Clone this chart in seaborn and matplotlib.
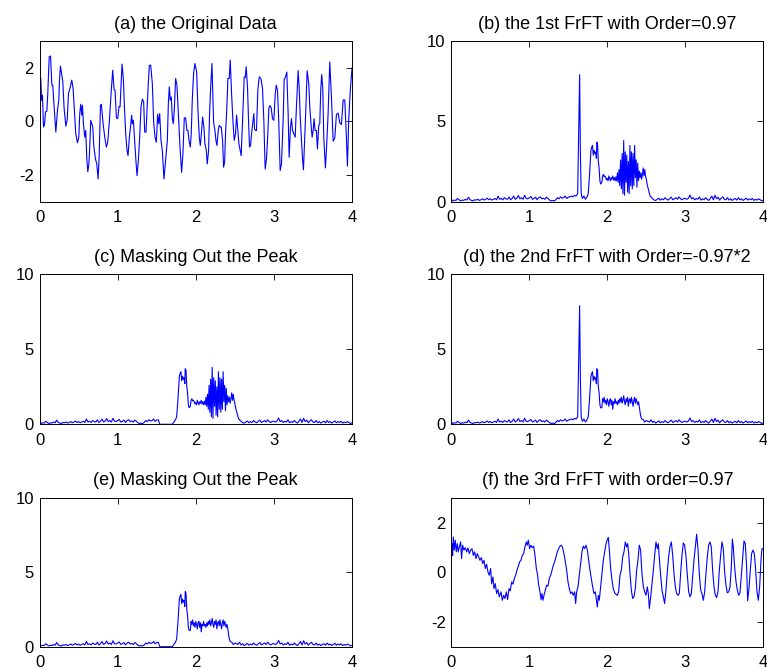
import numpy as np
import pandas as pd
import seaborn as sns
import matplotlib.pyplot as plt

# (a) original signal, turning points
t_a = [0.000, 0.017, 0.026, 0.038, 0.051, 0.064, 0.077, 0.094, 0.106, 0.124, 0.141, 0.158, 0.170, 0.187,
       0.209, 0.230, 0.247, 0.256, 0.268, 0.285, 0.298, 0.315, 0.337, 0.354, 0.371, 0.392, 0.413, 0.430,
       0.443, 0.464, 0.486, 0.503, 0.515, 0.528, 0.541, 0.550, 0.562, 0.579, 0.592, 0.605, 0.618, 0.630,
       0.639, 0.656, 0.669, 0.682, 0.694, 0.716, 0.733, 0.750, 0.763, 0.780, 0.792, 0.814, 0.835, 0.856,
       0.873, 0.895, 0.916, 0.937, 0.954, 0.967, 0.984, 1.001, 1.018, 1.031, 1.044, 1.056, 1.073, 1.086,
       1.103, 1.120, 1.133, 1.150, 1.167, 1.180, 1.188, 1.201, 1.223, 1.235, 1.248, 1.265, 1.282, 1.299,
       1.316, 1.333, 1.346, 1.363, 1.376, 1.389, 1.406, 1.423, 1.444, 1.461, 1.478, 1.495, 1.512, 1.525,
       1.538, 1.555, 1.572, 1.593, 1.614, 1.636, 1.649, 1.661, 1.674, 1.687, 1.700, 1.712, 1.725, 1.742,
       1.759, 1.776, 1.798, 1.819, 1.836, 1.853, 1.870, 1.887, 1.900, 1.913, 1.930, 1.942, 1.955, 1.972,
       1.989, 2.011, 2.028, 2.045, 2.058, 2.075, 2.087, 2.104, 2.117, 2.134, 2.147, 2.164, 2.177, 2.190,
       2.207, 2.215, 2.228, 2.245, 2.258, 2.271, 2.288, 2.300, 2.313, 2.326, 2.343, 2.356, 2.369, 2.381,
       2.398, 2.411, 2.428, 2.441, 2.458, 2.475, 2.492, 2.509, 2.522, 2.535, 2.552, 2.569, 2.581, 2.594,
       2.607, 2.620, 2.633, 2.645, 2.662, 2.675, 2.688, 2.701, 2.714, 2.726, 2.743, 2.752, 2.765, 2.777,
       2.794, 2.812, 2.833, 2.854, 2.871, 2.888, 2.905, 2.922, 2.935, 2.948, 2.965, 2.982, 2.999, 3.016,
       3.029, 3.046, 3.063, 3.080, 3.097, 3.118, 3.131, 3.148, 3.165, 3.182, 3.195, 3.212, 3.225, 3.238,
       3.255, 3.272, 3.289, 3.310, 3.323, 3.335, 3.348, 3.365, 3.378, 3.391, 3.408, 3.425, 3.446, 3.459,
       3.476, 3.489, 3.502, 3.514, 3.527, 3.544, 3.557, 3.574, 3.587, 3.600, 3.612, 3.625, 3.638, 3.659,
       3.676, 3.693, 3.715, 3.737, 3.758, 3.779, 3.800, 3.822, 3.843, 3.864, 3.886, 3.907, 3.928, 3.941,
       3.958, 3.979, 4.000]
y_a = [1.66, 1.60, 0.79, 0.98, -0.21, -0.13, 0.35, 0.38, 1.04, 2.41, 2.44, 1.35, 1.35, 0.54,
       -0.40, 0.41, 0.79, 1.54, 2.06, 1.73, 1.48, 0.48, -0.18, 0.04, 1.04, 1.26, 1.54, 1.23,
       0.60, -0.46, -0.80, -0.59, 0.29, 0.64, 0.23, 0.60, -0.09, -0.59, -0.34, -1.38, -1.88, -1.65,
       -1.25, 0.04, -0.09, -0.21, -0.90, -1.40, -1.59, -2.15, -1.34, 0.60, 0.64, -0.09, -0.59, -0.96,
       -0.78, 0.04, 1.04, 1.91, 1.19, 1.16, 0.13, 0.10, 0.56, 0.54, 1.35, 2.14, 1.60, 0.60,
       -0.46, -1.09, -1.28, -0.59, -0.15, 0.23, -0.09, 0.04, -0.96, -1.50, -2.03, -1.46, -0.59, 0.54,
       0.83, 0.73, -0.40, -0.40, 0.41, 1.23, 2.09, 2.10, 1.41, -0.03, -0.59, -0.78, 0.26, -0.09,
       0.29, -0.71, -1.09, -2.15, -1.46, -0.71, 0.66, 1.29, 0.79, 0.91, 0.10, -0.09, 0.41, 1.60,
       1.35, 0.35, -0.96, -1.90, -1.19, 0.13, 0.13, -0.34, -0.34, -0.71, -0.96, -0.46, 0.79, 1.79,
       2.16, 1.85, 0.41, -0.59, -0.90, -0.34, 0.16, -0.21, -0.84, -1.06, -1.59, -1.09, 0.35, 1.23,
       2.16, 1.29, -0.03, -0.34, -0.71, -0.90, -0.34, -0.15, -0.21, -0.21, -0.71, -1.71, -1.53, -0.46,
       0.54, 1.60, 1.60, 2.29, 1.04, 0.04, -0.71, -0.46, 0.23, -0.21, -0.84, -1.09, -1.28, -0.34,
       0.66, 1.66, 1.63, 2.04, 1.29, 0.04, -0.96, -0.90, -0.46, -0.15, 0.29, -0.28, -0.34, -0.34,
       1.16, 1.66, 1.60, 1.23, 0.04, -1.78, -1.40, -0.46, 0.48, 0.59, 0.51, 0.10, 0.04, 0.98,
       1.35, 1.16, -0.09, -1.84, -1.59, 0.04, 1.56, 1.66, 1.84, 0.29, -1.34, -0.21, 0.10, -0.34,
       -0.46, -0.59, 0.60, 1.90, 1.29, 0.29, -0.46, -1.34, -1.81, -0.84, 0.41, 1.89, 1.41, 0.54,
       -0.15, -0.59, -0.34, 0.10, -0.34, -0.34, -1.03, -0.15, -0.09, 1.23, 1.75, 1.23, -0.59, -1.74,
       -0.84, 0.25, 2.22, 0.86, -0.74, -0.62, 0.25, 0.31, -0.06, -0.12, 0.80, 0.80, -0.62, -1.67,
       0.12, 1.23, 2.00]

# shared low-level floor of the FrFT magnitudes
floor_left = [0.15, 0.05, 0.10, 0.08, 0.20, 0.12, 0.05, 0.10, 0.08, 0.15,
              0.10, 0.28, 0.12, 0.08, 0.05, 0.12, 0.10, 0.15, 0.08, 0.12,
              0.18, 0.10, 0.15, 0.22, 0.12, 0.18, 0.10, 0.15, 0.20, 0.12,
              0.35, 0.15, 0.20, 0.12, 0.25, 0.18, 0.15, 0.30, 0.12, 0.20,
              0.35, 0.15, 0.22, 0.38, 0.18, 0.25, 0.15, 0.40, 0.20, 0.18,
              0.25, 0.32, 0.15, 0.20, 0.28, 0.12, 0.25, 0.30, 0.18, 0.22,
              0.15, 0.28, 0.20, 0.10, 0.05, 0.08, 0.05, 0.12, 0.25, 0.18,
              0.30, 0.22, 0.25, 0.35, 0.20, 0.28, 0.30]
floor_right = [0.25, 0.20, 0.15, 0.30, 0.12, 0.20, 0.08, 0.15, 0.22, 0.10,
               0.18, 0.12, 0.25, 0.15, 0.10, 0.20, 0.28, 0.12, 0.18, 0.25,
               0.15, 0.30, 0.18, 0.12, 0.20, 0.20, 0.15, 0.22, 0.42, 0.18,
               0.25, 0.12, 0.20, 0.15, 0.30, 0.10, 0.18, 0.12, 0.25, 0.15,
               0.08, 0.20, 0.35, 0.12, 0.40, 0.18, 0.28, 0.10, 0.22, 0.30,
               0.15, 0.12, 0.25, 0.10, 0.18, 0.08, 0.15, 0.20, 0.10, 0.25,
               0.12, 0.18, 0.08, 0.15, 0.22, 0.10, 0.18, 0.12, 0.20, 0.08,
               0.15, 0.10, 0.18, 0.12, 0.05, 0.10]
t_floor_left = np.linspace(0, 1.52, len(floor_left))
t_floor_right = np.linspace(2.50, 4.0, len(floor_right))

# the sharp peak (b, d) and the masked gap (c, e)
t_peak = [1.54, 1.56, 1.58, 1.60, 1.62, 1.635, 1.645, 1.655, 1.665, 1.68, 1.70]
y_peak = [0.35, 0.30, 0.40, 0.35, 0.50, 5.0, 7.9, 3.0, 0.50, 0.20, 0.35]
t_mask = [1.54, 1.70]
y_mask = [0.0, 0.0]

# rising part, same in b-e
t_rise = [1.72, 1.74, 1.755, 1.77, 1.78, 1.79, 1.80, 1.81, 1.82, 1.83, 1.84, 1.85, 1.86, 1.865,
          1.875, 1.885, 1.895, 1.905, 1.915]
y_rise = [0.15, 0.30, 0.50, 1.5, 2.4, 3.2, 3.4, 3.5, 2.9, 3.2, 3.0, 3.1, 2.7, 3.7,
          3.6, 2.5, 2.1, 1.3, 1.1]

# plateau + oscillating part in b and c
t_chirp = [1.93, 1.94, 1.95, 1.96, 1.97, 1.98, 1.99, 2.00, 2.01, 2.02, 2.03, 2.04, 2.05, 2.06,
           2.07, 2.08, 2.09, 2.10, 2.11, 2.12, 2.13, 2.14, 2.15, 2.16, 2.17, 2.18, 2.19, 2.20,
           2.21, 2.22, 2.23, 2.24, 2.25, 2.26, 2.27, 2.28, 2.29, 2.30, 2.31, 2.32, 2.33, 2.34,
           2.35, 2.36, 2.37, 2.38, 2.39, 2.40, 2.41, 2.42, 2.43, 2.44, 2.45, 2.46, 2.47, 2.48,
           2.49, 2.50, 2.51, 2.52, 2.53, 2.54, 2.55, 2.56, 2.58, 2.60]
y_chirp = [1.2, 1.6, 1.7, 1.55, 1.6, 1.5, 1.35, 1.45, 1.3, 1.6, 1.45, 1.3, 1.5, 1.4,
           1.6, 1.35, 1.5, 1.3, 1.55, 1.3, 1.8, 1.2, 2.0, 1.0, 2.6, 0.8, 3.0, 0.5,
           3.8, 0.4, 3.1, 1.2, 2.9, 0.6, 2.5, 0.5, 3.5, 1.0, 3.1, 0.8, 3.0, 1.0,
           3.5, 1.5, 2.6, 0.9, 2.4, 1.3, 1.9, 1.5, 1.8, 1.4, 1.7, 2.1, 1.6, 2.0,
           1.6, 1.4, 1.1, 0.9, 0.7, 0.5, 0.35, 0.3, 0.2, 0.1]

# flattened plateau in d and e
t_flat = [1.93, 1.94, 1.95, 1.96, 1.97, 1.98, 1.99, 2.00, 2.01, 2.02, 2.03, 2.04, 2.05, 2.06,
          2.07, 2.08, 2.09, 2.10, 2.11, 2.12, 2.13, 2.14, 2.15, 2.16, 2.17, 2.18, 2.19, 2.20,
          2.21, 2.22, 2.23, 2.24, 2.25, 2.26, 2.27, 2.28, 2.29, 2.30, 2.31, 2.32, 2.33, 2.34,
          2.35, 2.36, 2.37, 2.38, 2.39, 2.40, 2.41, 2.42, 2.43, 2.44, 2.46, 2.48]
y_flat = [1.1, 1.7, 1.5, 1.8, 1.4, 1.6, 1.3, 1.7, 1.5, 1.2, 1.6, 1.7, 1.3, 1.6,
          1.0, 1.5, 1.4, 1.7, 1.4, 1.5, 1.3, 1.6, 1.4, 1.7, 1.5, 1.8, 1.4, 1.6,
          1.9, 1.5, 1.3, 1.7, 1.5, 1.8, 1.2, 1.6, 1.7, 1.4, 1.8, 1.5, 1.2, 1.6,
          1.8, 1.4, 1.7, 1.5, 1.3, 1.5, 1.2, 0.8, 0.5, 0.35, 0.3, 0.15]

# (f) result of the 3rd FrFT
t_f = [0.009, 0.017, 0.026, 0.038, 0.051, 0.064, 0.077, 0.090, 0.103, 0.120, 0.132, 0.145, 0.162, 0.179,
       0.197, 0.214, 0.231, 0.248, 0.265, 0.282, 0.299, 0.316, 0.333, 0.350, 0.368, 0.385, 0.402, 0.419,
       0.436, 0.453, 0.470, 0.487, 0.504, 0.517, 0.534, 0.547, 0.564, 0.581, 0.598, 0.615, 0.637, 0.654,
       0.671, 0.688, 0.705, 0.722, 0.739, 0.756, 0.774, 0.791, 0.808, 0.825, 0.842, 0.859, 0.876, 0.893,
       0.910, 0.927, 0.944, 0.962, 0.974, 0.987, 1.004, 1.021, 1.038, 1.056, 1.073, 1.090, 1.107, 1.120,
       1.137, 1.150, 1.162, 1.175, 1.188, 1.205, 1.222, 1.239, 1.256, 1.274, 1.291, 1.308, 1.325, 1.342,
       1.359, 1.376, 1.393, 1.410, 1.427, 1.444, 1.462, 1.479, 1.496, 1.513, 1.530, 1.547, 1.564, 1.581,
       1.594, 1.607, 1.624, 1.641, 1.658, 1.675, 1.692, 1.709, 1.726, 1.744, 1.761, 1.778, 1.795, 1.812,
       1.829, 1.846, 1.863, 1.872, 1.885, 1.897, 1.915, 1.932, 1.949, 1.966, 1.983, 2.000, 2.013, 2.026,
       2.043, 2.060, 2.077, 2.094, 2.111, 2.128, 2.145, 2.162, 2.180, 2.197, 2.214, 2.231, 2.248, 2.261,
       2.274, 2.291, 2.308, 2.325, 2.342, 2.359, 2.376, 2.393, 2.410, 2.427, 2.444, 2.462, 2.479, 2.496,
       2.513, 2.526, 2.539, 2.556, 2.573, 2.590, 2.607, 2.624, 2.641, 2.654, 2.667, 2.684, 2.701, 2.718,
       2.735, 2.752, 2.769, 2.786, 2.803, 2.821, 2.838, 2.855, 2.872, 2.889, 2.906, 2.923, 2.940, 2.957,
       2.974, 2.991, 3.009, 3.026, 3.043, 3.060, 3.077, 3.094, 3.111, 3.128, 3.145, 3.162, 3.179, 3.197,
       3.214, 3.231, 3.248, 3.265, 3.282, 3.299, 3.316, 3.333, 3.350, 3.368, 3.385, 3.402, 3.419, 3.436,
       3.453, 3.470, 3.487, 3.504, 3.521, 3.538, 3.556, 3.573, 3.590, 3.603, 3.615, 3.632, 3.650, 3.667,
       3.684, 3.701, 3.718, 3.735, 3.752, 3.769, 3.786, 3.799, 3.816, 3.833, 3.850, 3.867, 3.885, 3.902,
       3.919, 3.936, 3.953, 3.970, 3.983, 4.000]
y_f = [1.15, 0.68, 1.42, 0.89, 1.29, 0.82, 1.15, 0.82, 1.02, 1.22, 0.55, 1.09, 0.89, 0.99,
       0.82, 0.98, 0.75, 0.89, 0.95, 0.68, 0.82, 0.55, 0.75, 0.62, 0.48, 0.59, 0.35, 0.48,
       0.15, 0.32, 0.01, -0.12, 0.15, -0.46, -0.19, -0.66, -0.46, -0.86, -0.70, -0.99, -0.79, -1.13,
       -0.93, -1.06, -0.79, -1.10, -0.66, -0.75, -0.39, -0.48, -0.25, -0.12, 0.08, 0.24, 0.42, 0.48,
       0.68, 0.75, 1.02, 1.22, 1.09, 1.29, 0.95, 1.09, 0.99, 1.05, 0.68, 0.15, -0.12, -0.52,
       -0.79, -1.10, -0.86, -1.13, -0.93, -0.72, -0.52, -0.56, -0.25, -0.12, 0.08, 0.28, 0.42, 0.62,
       0.82, 0.95, 1.05, 1.09, 0.99, 0.75, 0.42, 0.08, -0.39, -0.66, -0.86, -0.79, -0.93, -0.79,
       -1.26, -0.79, -0.59, -0.12, 0.35, 0.82, 1.05, 0.95, 1.09, 0.89, 0.48, 0.08, -0.25, -0.59,
       -0.86, -0.79, -1.19, -1.40, -0.93, -1.13, -0.59, -0.05, 0.48, 0.82, 1.13, 1.32, 1.40, 0.89,
       0.15, -0.32, -0.66, -0.83, -0.89, -0.93, -0.79, -0.12, 0.08, 0.62, 0.82, 1.22, 1.02, 1.15,
       0.75, -0.05, -0.72, -1.06, -0.99, -0.66, 0.08, 0.48, 1.09, 0.89, -0.05, -0.59, -0.79, -0.93,
       -0.59, -0.86, -1.46, -0.99, -0.46, 0.08, 0.68, 1.22, 0.95, 1.15, 0.55, -0.12, -0.72, -0.99,
       -1.26, -0.72, 0.01, 0.62, 1.02, 1.22, 0.68, -0.05, -0.59, -0.86, -0.93, -0.86, -0.05, 0.68,
       1.18, 1.09, 0.62, -0.12, -0.79, -0.99, -0.86, -0.19, 0.48, 1.02, 1.53, 0.95, -0.05, -0.72,
       -0.86, -1.13, -0.79, -0.05, 0.62, 1.09, 1.22, 1.02, 0.08, -0.59, -0.93, -1.02, -0.79, 0.08,
       0.68, 1.22, 0.95, 0.01, -0.52, -0.83, -0.79, -0.59, 0.21, 1.33, 1.02, 0.21, -0.39, -0.72,
       -0.93, -0.83, -0.12, 0.62, 1.26, 1.15, 0.21, -1.15, -0.66, 0.08, 0.75, 0.89, 0.75, 0.08,
       -0.79, -1.13, -0.59, 0.48, 0.95, 0.95]

titles = ['(a) the Original Data', '(b) the 1st FrFT with Order=0.97',
          '(c) Masking Out the Peak', '(d) the 2nd FrFT with Order=-0.97*2',
          '(e) Masking Out the Peak', '(f) the 3rd FrFT with order=0.97']


def spectrum(middle_parts, end_t):
    t = list(t_floor_left)
    y = list(floor_left)
    for pt, py in middle_parts:
        t += list(pt)
        y += list(py)
    keep = t_floor_right > end_t + 0.005
    t += list(t_floor_right[keep])
    y += list(np.array(floor_right)[keep])
    return t, y


t_b, y_b = spectrum([(t_peak, y_peak), (t_rise, y_rise), (t_chirp, y_chirp)], t_chirp[-1])
t_c, y_c = spectrum([(t_mask, y_mask), (t_rise, y_rise), (t_chirp, y_chirp)], t_chirp[-1])
t_d, y_d = spectrum([(t_peak, y_peak), (t_rise, y_rise), (t_flat, y_flat)], t_flat[-1])
t_e, y_e = spectrum([(t_mask, y_mask), (t_rise, y_rise), (t_flat, y_flat)], t_flat[-1])

series = [(t_a, y_a), (t_b, y_b), (t_c, y_c), (t_d, y_d), (t_e, y_e), (t_f, y_f)]

sns.set_style('white')
plt.rcParams['font.family'] = ['Liberation Sans', 'DejaVu Sans']
plt.rcParams['axes.unicode_minus'] = False
plt.rcParams['text.color'] = 'black'

fig = plt.figure(figsize=(7.67, 6.69), dpi=100)
rows = [(0.6985, 0.2402), (0.3658, 0.2242), (0.0333, 0.2227)]
cols = [(0.0515, 0.4075), (0.5884, 0.4068)]

for i, (tt, yy) in enumerate(series):
    r, c = divmod(i, 2)
    ax = fig.add_axes([cols[c][0], rows[r][0], cols[c][1], rows[r][1]])
    df = pd.DataFrame({'t': tt, 'v': yy})
    sns.lineplot(data=df, x='t', y='v', ax=ax, color='#0000ff', linewidth=0.8,
                 estimator=None, sort=False)
    ax.set_xlim(0, 4)
    ax.set_xticks([0, 1, 2, 3, 4])
    if i in (0, 5):
        ax.set_ylim(-3, 3)
        ax.set_yticks([-2, 0, 2])
    else:
        ax.set_ylim(0, 10)
        ax.set_yticks([0, 5, 10])
    ax.set_xlabel('')
    ax.set_ylabel('')
    ax.set_title(titles[i], fontsize=13, pad=9, color='black')
    ax.tick_params(direction='in', length=4, width=0.6, top=True, right=True,
                   labelsize=12, colors='black')
    ax.tick_params(axis='x', pad=6)
    ax.tick_params(axis='y', pad=4)
    for s in ax.spines.values():
        s.set_color('black')
        s.set_linewidth(0.7)

fig.savefig('out.png', dpi=100)
